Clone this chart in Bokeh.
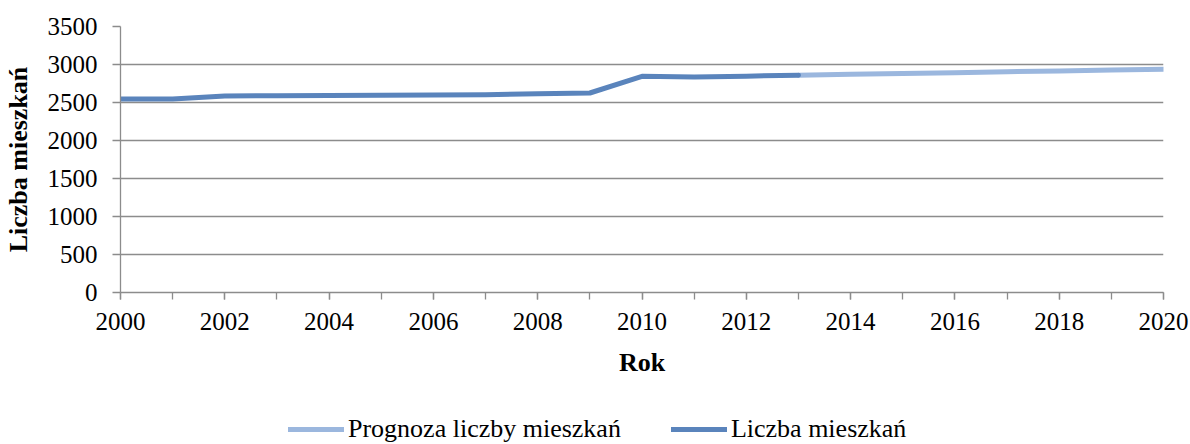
from bokeh.plotting import figure
from bokeh.layouts import column
from bokeh.models import SingleIntervalTicker, Legend, LegendItem, Range1d
from bokeh.embed import file_html
from bokeh.resources import INLINE

# --- data ---
years_hist = [2000, 2001, 2002, 2003, 2004, 2005, 2006, 2007, 2008, 2009, 2010, 2011, 2012, 2013]
liczba = [2545, 2545, 2585, 2590, 2592, 2595, 2598, 2603, 2615, 2625, 2845, 2835, 2847, 2860]
years_prog = [2013, 2014, 2015, 2016, 2017, 2018, 2019, 2020]
prognoza = [2860, 2871, 2882, 2893, 2905, 2916, 2927, 2938]

x_title = "Rok"
y_title = "Liczba mieszkań"
label_prog = "Prognoza liczby mieszkań"
label_hist = "Liczba mieszkań"

FONT = "Liberation Serif"
GRID = "#8C8C8C"
C_PROG = "#9BB7DE"
C_HIST = "#5A84BC"

p = figure(width=1190, height=400, output_backend="svg", toolbar_location=None,
           x_range=Range1d(2000, 2020), y_range=Range1d(0, 3500),
           min_border_left=119, min_border_right=27, min_border_top=26, min_border_bottom=108)
p.outline_line_color = None
p.background_fill_color = "white"
p.border_fill_color = "white"

p.line(years_prog, prognoza, line_color=C_PROG, line_width=5, line_cap="round", line_join="round")
p.line(years_hist, liczba, line_color=C_HIST, line_width=5, line_cap="round", line_join="round")

# axes
xa = p.xaxis[0]
xa.ticker = SingleIntervalTicker(interval=2, num_minor_ticks=2)
xa.axis_line_color = GRID
xa.axis_line_width = 1.3
xa.major_tick_line_color = GRID
xa.minor_tick_line_color = GRID
xa.major_tick_line_width = 1.3
xa.minor_tick_line_width = 1.3
xa.major_tick_in = 0
xa.major_tick_out = 7
xa.minor_tick_in = 0
xa.minor_tick_out = 7
xa.major_label_text_font = FONT
xa.major_label_text_font_size = "25px"
xa.major_label_text_color = "black"
xa.major_label_standoff = 13
xa.axis_label = x_title
xa.axis_label_text_font = FONT
xa.axis_label_text_font_style = "bold"
xa.axis_label_text_font_size = "26px"
xa.axis_label_text_color = "black"
xa.axis_label_standoff = 15

ya = p.yaxis[0]
ya.ticker = SingleIntervalTicker(interval=500, num_minor_ticks=0)
ya.axis_line_color = GRID
ya.axis_line_width = 1.3
ya.major_tick_line_color = GRID
ya.major_tick_line_width = 1.3
ya.major_tick_in = 0
ya.major_tick_out = 8
ya.minor_tick_line_color = None
ya.major_label_text_font = FONT
ya.major_label_text_font_size = "25px"
ya.major_label_text_color = "black"
ya.major_label_standoff = 15
ya.axis_label = y_title
ya.axis_label_text_font = FONT
ya.axis_label_text_font_style = "bold"
ya.axis_label_text_font_size = "26px"
ya.axis_label_text_color = "black"
ya.axis_label_standoff = 12

p.xgrid.grid_line_color = None
p.ygrid.grid_line_color = GRID
p.ygrid.grid_line_width = 1.3

# legend strip below the chart
pl = figure(width=1190, height=44, output_backend="svg", toolbar_location=None,
            x_range=Range1d(0, 1), y_range=Range1d(0, 1),
            x_axis_type=None, y_axis_type=None,
            min_border_left=0, min_border_right=0, min_border_top=0, min_border_bottom=0)
pl.outline_line_color = None
pl.xgrid.grid_line_color = None
pl.ygrid.grid_line_color = None
# renderers that only supply the legend swatches (kept outside the visible range)
lr_prog = pl.line([-5, -4], [-5, -4], line_color=C_PROG, line_width=5, line_cap="round")
lr_hist = pl.line([-5, -4], [-5, -4], line_color=C_HIST, line_width=5, line_cap="round")

legend = Legend(items=[LegendItem(label=label_prog, renderers=[lr_prog]),
                       LegendItem(label=label_hist, renderers=[lr_hist])],
                orientation="horizontal", location=(168, 0),
                label_text_font=FONT, label_text_font_size="26px", label_text_color="black",
                glyph_width=56, glyph_height=20, label_standoff=4, spacing=50,
                padding=0, margin=0, border_line_color=None, background_fill_alpha=0)
pl.add_layout(legend, "center")

layout = column(p, pl, spacing=0)
open("out.html", "w").write(file_html(layout, INLINE))
